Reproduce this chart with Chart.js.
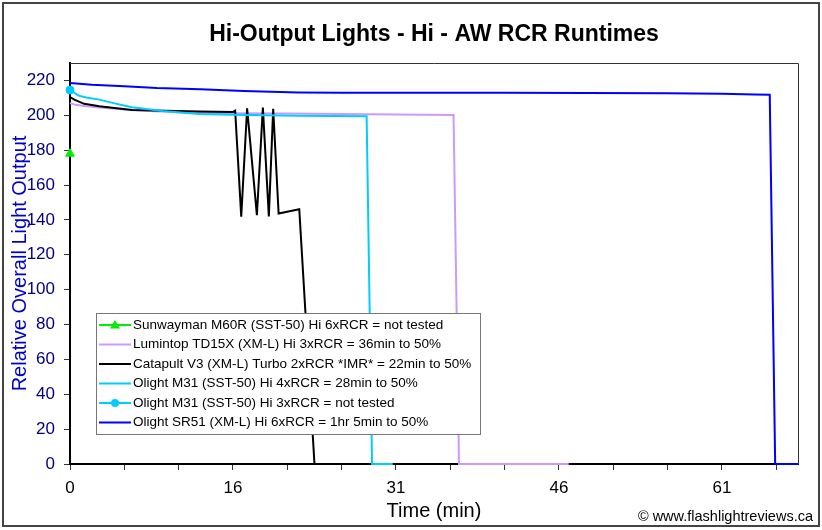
<!DOCTYPE html>
<html><head><meta charset="utf-8">
<script src="https://cdn.jsdelivr.net/npm/chart.js@4.4.1/dist/chart.umd.min.js"></script>
<style>html,body{margin:0;padding:0;background:#fff;}canvas{display:block;}</style>
</head><body>
<canvas id="c" width="822" height="530"></canvas>
<script>
// ---- text ----
const chartTitle = 'Hi-Output Lights - Hi - AW RCR Runtimes';
const xTitle = 'Time (min)';
const yTitle = 'Relative Overall Light Output';
const creditText = '\u00A9 www.flashlightreviews.ca';
const seriesNames = [
  'Sunwayman M60R (SST-50) Hi 6xRCR = not tested',
  'Lumintop TD15X (XM-L) Hi 3xRCR = 36min to 50%',
  'Catapult V3 (XM-L) Turbo 2xRCR *IMR* = 22min to 50%',
  'Olight M31 (SST-50) Hi 4xRCR = 28min to 50%',
  'Olight M31 (SST-50) Hi 3xRCR = not tested',
  'Olight SR51 (XM-L) Hi 6xRCR = 1hr 5min to 50%'
];

// ---- ticks ----
const yTickValues = [0, 20, 40, 60, 80, 100, 120, 140, 160, 180, 200, 220];
const xTickValues = [0, 5, 10, 15, 20, 25, 30, 35, 40, 45, 50, 55, 60, 65];
const xTickLabels = ['0', '', '', '16', '', '', '31', '', '', '46', '', '', '61', ''];

// ---- series (x in axis units, y = relative output) ----
const sunwaymanX = [0];
const sunwaymanY = [178];

const lumintopX = [0, 0.5, 1.5, 2.7, 5, 7.3, 10, 15, 20, 30, 35.3, 35.8, 45.9];
const lumintopY = [207, 206, 205.2, 204.5, 203.3, 202.5, 201.8, 201.2, 201, 200.5, 200.2, 0, 0];

const catapultX = [0, 0.4, 1.3, 2.7, 5.7, 11.9, 15.0, 15.2, 15.76, 16.3, 17.2, 17.75, 18.3, 18.7, 19.2, 21.1, 22.5, 22.7];
const catapultY = [210.5, 209, 206.6, 205.2, 203.1, 202.2, 201.9, 202.6, 141.9, 204, 142.7, 204.4, 142, 203.7, 143.7, 146.1, 0, 0];

const m31aX = [0, 0.8, 1.5, 2.7, 4, 5.7, 8.5, 11.9, 15, 21, 27.3, 27.8, 29.7];
const m31aY = [214.5, 211.3, 210.2, 209, 207, 204.6, 202.5, 200.8, 200.3, 199.8, 199.5, 0, 0];

const m31bX = [0];
const m31bY = [214.5];

const sr51X = [0, 2, 5, 8, 12, 16, 21, 25, 40, 55, 60, 63, 64.4, 64.9, 67];
const sr51Y = [218.5, 217.5, 216.6, 215.6, 214.9, 214, 213.1, 212.9, 212.9, 212.7, 212.3, 212, 211.8, 0, 0];

const seriesColors = ['#00ee00', '#cc99ff', '#000000', '#00ccff', '#00ccff', '#0000ff'];

function pts(xs, ys) { return xs.map((x, i) => ({ x: x, y: ys[i] })); }

const FONT = "'Liberation Sans', Arial, sans-serif";
Chart.defaults.font.family = FONT;

const datasets = [
  { label: seriesNames[0], data: pts(sunwaymanX, sunwaymanY), borderColor: seriesColors[0], backgroundColor: seriesColors[0],
    showLine: false, pointStyle: 'triangle', pointRadius: 5, order: 6, clip: false },
  { label: seriesNames[1], data: pts(lumintopX, lumintopY), borderColor: seriesColors[1], backgroundColor: seriesColors[1],
    pointRadius: 0, order: 5, clip: false },
  { label: seriesNames[2], data: pts(catapultX, catapultY), borderColor: seriesColors[2], backgroundColor: seriesColors[2],
    pointRadius: 0, order: 4, clip: false },
  { label: seriesNames[3], data: pts(m31aX, m31aY), borderColor: seriesColors[3], backgroundColor: seriesColors[3],
    pointRadius: 0, order: 3, clip: false },
  { label: seriesNames[4], data: pts(m31bX, m31bY), borderColor: seriesColors[4], backgroundColor: seriesColors[4],
    showLine: false, pointStyle: 'circle', pointRadius: 4, order: 2, clip: false },
  { label: seriesNames[5], data: pts(sr51X, sr51Y), borderColor: seriesColors[5], backgroundColor: seriesColors[5],
    pointRadius: 0, order: 1, clip: false }
];

const decor = {
  id: 'decor',
  beforeDraw(chart) {
    const ctx = chart.ctx;
    ctx.save();
    ctx.fillStyle = '#fff';
    ctx.fillRect(0, 0, chart.width, chart.height);
    ctx.restore();
  },
  afterDatasetsDraw(chart) {
    const ctx = chart.ctx;
    const a = chart.chartArea;
    ctx.save();
    // plot border top & right
    ctx.strokeStyle = '#333';
    ctx.lineWidth = 1;
    ctx.beginPath();
    ctx.moveTo(a.left, Math.round(a.top) + 0.5);
    ctx.lineTo(Math.round(a.right) + 0.5, Math.round(a.top) + 0.5);
    ctx.lineTo(Math.round(a.right) + 0.5, a.bottom);
    ctx.stroke();

    // legend box inside the plot
    const lx = 96.5, ly = 313.5, lw = 384, lh = 121;
    ctx.fillStyle = '#fff';
    ctx.fillRect(lx, ly, lw, lh);
    ctx.strokeStyle = '#777';
    ctx.lineWidth = 1;
    ctx.strokeRect(lx, ly, lw, lh);
    ctx.font = '13.5px ' + FONT;
    ctx.textBaseline = 'middle';
    ctx.textAlign = 'left';
    chart.data.datasets.forEach((ds, i) => {
      const y = 325 + i * 19.5;
      ctx.strokeStyle = ds.borderColor;
      ctx.lineWidth = 2;
      ctx.beginPath();
      ctx.moveTo(99, y);
      ctx.lineTo(131, y);
      ctx.stroke();
      if (ds.pointRadius > 0) {
        ctx.fillStyle = ds.backgroundColor;
        ctx.beginPath();
        if (ds.pointStyle === 'triangle') {
          ctx.moveTo(115, y - 5);
          ctx.lineTo(120, y + 3.5);
          ctx.lineTo(110, y + 3.5);
          ctx.closePath();
        } else {
          ctx.arc(115, y, 4, 0, Math.PI * 2);
        }
        ctx.fill();
      }
      ctx.fillStyle = '#000';
      ctx.fillText(ds.label, 133, y);
    });
    ctx.restore();
  },
  afterDraw(chart) {
    const ctx = chart.ctx;
    ctx.save();
    ctx.strokeStyle = '#444';
    ctx.lineWidth = 2;
    ctx.strokeRect(3, 3, 816, 523);
    ctx.font = '14.5px ' + FONT;
    ctx.fillStyle = '#000';
    ctx.textAlign = 'right';
    ctx.textBaseline = 'middle';
    ctx.fillText(creditText, 813, 517);
    ctx.restore();
  }
};

new Chart(document.getElementById('c'), {
  type: 'line',
  data: { datasets: datasets },
  options: {
    responsive: false,
    animation: false,
    devicePixelRatio: 1,
    layout: { padding: { left: 0, right: 24, top: 0, bottom: 0 } },
    elements: { line: { borderWidth: 2, tension: 0, fill: false } },
    plugins: {
      legend: { display: false },
      tooltip: { enabled: false },
      title: {
        display: true, text: chartTitle, color: '#000', fullSize: false,
        font: { size: 23, weight: 'bold', lineHeight: 1.2 },
        padding: { top: 20.5, bottom: 14.9 }
      }
    },
    scales: {
      x: {
        type: 'linear', min: 0, max: 67,
        afterBuildTicks: s => { s.ticks = xTickValues.map(v => ({ value: v })); },
        afterFit: s => { s.height = 66; },
        ticks: {
          autoSkip: false, maxRotation: 0, padding: 8, color: '#000',
          font: { size: 17 },
          callback: v => { const i = xTickValues.indexOf(v); return i >= 0 ? xTickLabels[i] : ''; }
        },
        grid: { drawOnChartArea: false, drawTicks: true, tickLength: 6, color: '#333', lineWidth: 1 },
        border: { display: true, color: '#000', width: 2 },
        title: { display: true, text: xTitle, color: '#000', font: { size: 20 }, padding: { top: 0, bottom: 7 } }
      },
      y: {
        type: 'linear', min: 0, max: 230,
        afterBuildTicks: s => { s.ticks = yTickValues.map(v => ({ value: v })); },
        afterFit: s => { s.width = 70; },
        ticks: { autoSkip: false, padding: 9, color: '#000080', font: { size: 17 } },
        grid: { drawOnChartArea: false, drawTicks: true, tickLength: 6, color: '#333', lineWidth: 1 },
        border: { display: true, color: '#000', width: 2 },
        title: { display: true, text: yTitle, color: '#0000cc', font: { size: 20 }, padding: { top: 8, bottom: 0 } }
      }
    }
  },
  plugins: [decor]
});
</script>
</body></html>
